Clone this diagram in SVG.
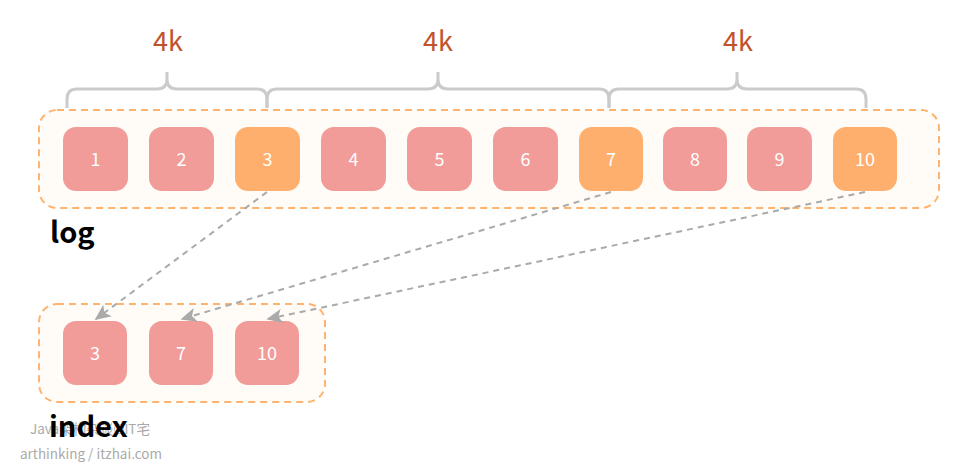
<svg xmlns="http://www.w3.org/2000/svg" width="974" height="466" viewBox="0 0 974 466">
<defs>
<style>
.cont{fill:#FFFCF7;stroke:#FFB36E;stroke-width:2;stroke-dasharray:7 5}
.p{fill:#F19C99}
.o{fill:#FFAF6D}
.n{font-family:"Noto Sans CJK SC","Noto Sans",sans-serif;font-size:18px;fill:#FFFFFF;text-anchor:middle}
.k{font-family:"Noto Sans CJK SC","Noto Sans",sans-serif;font-size:27px;fill:#C0532B;text-anchor:middle}
.lbl{font-family:"Noto Sans CJK SC","Noto Sans",sans-serif;font-size:29px;font-weight:bold;fill:#000}
.wm{font-family:"Noto Sans CJK SC","Noto Sans",sans-serif;font-size:13.5px;fill:#AAAAAA}
.brace{fill:none;stroke:#CBCBCB;stroke-width:3}
.arr{fill:none;stroke:#AAAAAA;stroke-width:2;stroke-dasharray:6 5}
</style>
<marker id="ah" viewBox="0 0 20 20" refX="18" refY="10" markerWidth="16" markerHeight="16" markerUnits="userSpaceOnUse" orient="auto">
<path d="M0,1 L20,10 L0,19 L5,10 Z" fill="#AAAAAA"/>
</marker>
</defs>
<rect width="974" height="466" fill="#FFFFFF"/>
<g id="braces">
<path class="brace" d="M67,108 V99 Q67,89 77,89 H157 Q167,89 167,79 V72 M167,79 Q167,89 177,89 H257 Q267,89 267,99 V108"/>
<path class="brace" d="M267,108 V99 Q267,89 277,89 H428 Q438,89 438,79 V72 M438,79 Q438,89 448,89 H599 Q609,89 609,99 V108"/>
<path class="brace" d="M609,108 V99 Q609,89 619,89 H727 Q737,89 737,79 V72 M737,79 Q737,89 747,89 H856 Q866,89 866,99 V108"/>
<text class="k" x="168" y="51">4k</text>
<text class="k" x="438" y="51">4k</text>
<text class="k" x="738" y="51">4k</text>
</g>
<g id="log">
<rect class="cont" x="39" y="110" width="900" height="98" rx="18"/>
<g id="log1"><rect class="p" x="63" y="127" width="65" height="64" rx="13"/><text class="n" x="95.5" y="165.5">1</text></g>
<g id="log2"><rect class="p" x="149" y="127" width="65" height="64" rx="13"/><text class="n" x="181.5" y="165.5">2</text></g>
<g id="log3"><rect class="o" x="235" y="127" width="65" height="64" rx="13"/><text class="n" x="267.5" y="165.5">3</text></g>
<g id="log4"><rect class="p" x="321" y="127" width="65" height="64" rx="13"/><text class="n" x="353.5" y="165.5">4</text></g>
<g id="log5"><rect class="p" x="407" y="127" width="65" height="64" rx="13"/><text class="n" x="439.5" y="165.5">5</text></g>
<g id="log6"><rect class="p" x="493" y="127" width="65" height="64" rx="13"/><text class="n" x="525.5" y="165.5">6</text></g>
<g id="log7"><rect class="o" x="579" y="127" width="64" height="64" rx="13"/><text class="n" x="611" y="165.5">7</text></g>
<g id="log8"><rect class="p" x="663" y="127" width="64" height="64" rx="13"/><text class="n" x="695" y="165.5">8</text></g>
<g id="log9"><rect class="p" x="747" y="127" width="65" height="64" rx="13"/><text class="n" x="779.5" y="165.5">9</text></g>
<g id="log10"><rect class="o" x="833" y="127" width="64" height="64" rx="13"/><text class="n" x="865" y="165.5">10</text></g>
<text class="lbl" x="50" y="243">log</text>
</g>
<g id="index">
<rect class="cont" x="39" y="304" width="286" height="98" rx="18"/>
<g id="idx3"><rect class="p" x="63" y="321" width="64" height="64" rx="13"/><text class="n" x="95" y="359.5">3</text></g>
<g id="idx7"><rect class="p" x="149" y="321" width="64" height="64" rx="13"/><text class="n" x="181" y="359.5">7</text></g>
<g id="idx10"><rect class="p" x="235" y="321" width="64" height="64" rx="13"/><text class="n" x="267" y="359.5">10</text></g>
</g>
<g id="connectors">
<path class="arr" d="M267,192 L96,319" marker-end="url(#ah)"/>
<path class="arr" d="M611,192 L182,319" marker-end="url(#ah)"/>
<path class="arr" d="M865,192 L268,319" marker-end="url(#ah)"/>
</g>
<g id="watermark">
<text class="wm" x="30" y="434">Java架构杂谈©IT宅</text>
<text class="wm" x="20" y="459">arthinking / itzhai.com</text>
</g>
<text class="lbl" x="49" y="437">index</text>
</svg>
